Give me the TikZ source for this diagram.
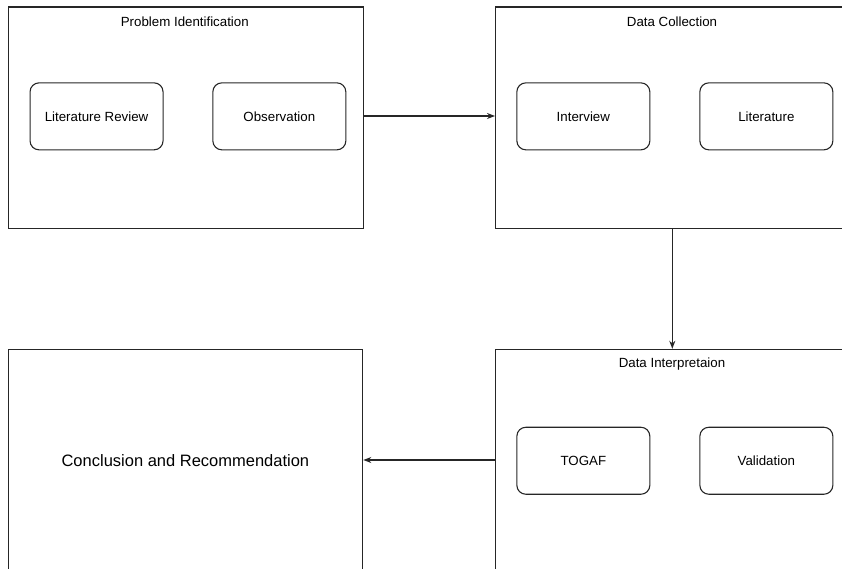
\documentclass[tikz,border=0pt]{standalone}
\usepackage{fontspec}
\setmainfont{Liberation Sans}
\usetikzlibrary{arrows.meta}
\begin{document}
\begin{tikzpicture}[x=1pt,y=-1pt,
  stage/.style={draw=black!85,line width=1.3pt},
  item/.style={draw=black!85,line width=1.1pt,rounded corners=9pt,minimum width=133pt,minimum height=67pt,inner sep=0pt,font=\fontsize{13.3}{16}\selectfont,anchor=north west},
  ttl/.style={font=\fontsize{13.3}{16}\selectfont,inner sep=0pt},
  conn/.style={draw=black!85,line width=1.3pt,-{Stealth[length=8pt,width=6pt]}}]
\useasboundingbox (0,0) rectangle (842,569);
\clip (0,0) rectangle (842,569);
% stage boxes
\node[stage,minimum width=355pt,minimum height=221.5pt,inner sep=0pt,anchor=north west] (pi) at (7.5,6.3) {};
\node[stage,minimum width=354pt,minimum height=221.5pt,inner sep=0pt,anchor=north west] (dc) at (495,6.3) {};
\node[stage,minimum width=354pt,minimum height=222pt,inner sep=0pt,anchor=north west] (di) at (495,348.8) {};
\node[stage,minimum width=354.5pt,minimum height=222pt,inner sep=0pt,anchor=north west,font=\fontsize{16.5}{19}\selectfont] (cr) at (7.5,348.8) {Conclusion and Recommendation};
% titles
\node[ttl] (tpi) at (184.8,21.5) {Problem Identification};
\node[ttl] (tdc) at (672,21.5) {Data Collection};
\node[ttl] (tdi) at (672,364.5) {Data Interpretaion};
% inner items
\node[item] (lr) at (29.5,82.3) {Literature Review};
\node[item] (ob) at (212.3,82.3) {Observation};
\node[item] (iv) at (516.3,82.3) {Interview};
\node[item] (li) at (699.3,82.3) {Literature};
\node[item] (tg) at (516.3,426.7) {TOGAF};
\node[item] (va) at (699.3,426.7) {Validation};
% connectors
\draw[conn] (pi.east|-0,116) -- (dc.west|-0,116);
\draw[conn] (dc.south-|672.3,0) -- (di.north-|672.3,0);
\draw[conn] (di.west|-0,460) -- (cr.east|-0,460);
\end{tikzpicture}
\end{document}
